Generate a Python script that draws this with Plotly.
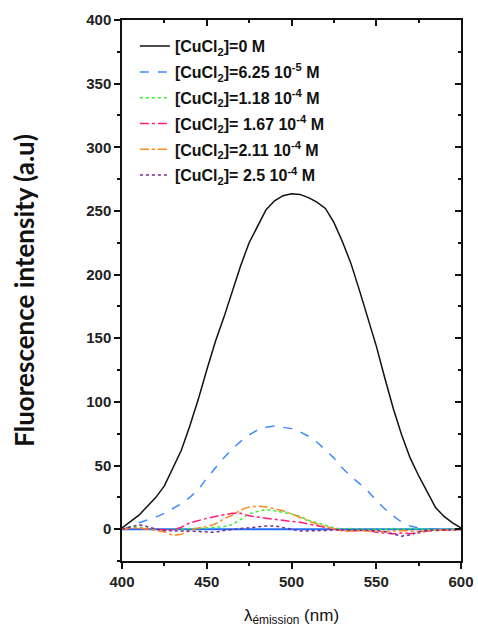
import plotly.graph_objects as go

# emission wavelength (nm), 5 nm steps
wavelength = list(range(400, 605, 5))

# fluorescence intensity, one list per [CuCl2]
i_0 = [1, 6, 11, 18, 25, 34, 48, 62, 81, 102, 125, 147, 166, 186, 207, 225, 238.5, 251, 258, 262, 263.5,
       263, 260.5, 257, 252, 241, 226, 209, 188, 166, 144, 119, 95, 74, 56, 42, 29, 17, 10, 5, 1]
i_625e6 = [0, 2, 5, 7, 9.5, 12.5, 16, 20, 25, 31, 40, 48, 56, 63, 69, 74, 78, 80, 81, 80, 79,
           76.5, 73, 68.5, 62.5, 56, 48, 41.5, 36, 30, 22.5, 16, 10.5, 5.5, 2.5, 1, 0.5, 0, 0, 0, 0]
i_118e4 = [0, 2, 1.5, 0.5, 0, -0.5, -0.5, 0, 0.5, 0.5, 1, 1.5, 2, 3.5, 8, 12, 14, 15.5, 14.5, 13.5, 12,
           10, 7, 5, 3, 1, 0, 0.5, 0, 0, -0.5, 0, 0.5, 0, 0.5, 0, 0, -0.5, 0, 0, 0]
i_167e4 = [0, 1, 0.5, 0, 0, -0.5, -0.5, 1.5, 5, 7, 8.5, 10, 11, 12.5, 12.5, 10.5, 9.5, 8.5, 7.5, 6.5, 6,
           5.5, 4, 2.5, 1, 0, -1, -1.5, -1, -1, -2.5, -3, -3.5, -3, -3.5, -3, -1.5, -1, -1, -1, -0.5]
i_211e4 = [0, 1, 1, 0, -1, -2, -5, -4, -1, 1, 2, 4, 8, 11, 15, 17.5, 18, 17.5, 16, 14.5, 12,
           9, 6.5, 4, 2, 0, -1.5, -1.5, -1, -1.5, -2, -2, -1.5, -1, -1.5, -2, -1, -1, -1, -0.5, 0]
i_25e4 = [0, 2, 3.5, 2, 0, -1, -1.5, -1.5, -1.5, -2, -2.5, -2.5, -1, 0, 0.5, 1, 2, 2.5, 2.5, 1.5, 0,
          -1.5, -1.5, -1.5, -1, -0.5, -0.5, -0.5, -1, -1, -1, -2, -4, -5.5, -4.5, -2, -1, -1, -0.5, -0.5, 0]

labels = ["[CuCl<sub>2</sub>]=0 M",
          "[CuCl<sub>2</sub>]=6.25 10<sup>-5</sup> M",
          "[CuCl<sub>2</sub>]=1.18 10<sup>-4</sup> M",
          "[CuCl<sub>2</sub>]= 1.67 10<sup>-4</sup> M",
          "[CuCl<sub>2</sub>]=2.11 10<sup>-4</sup> M",
          "[CuCl<sub>2</sub>]= 2.5 10<sup>-4</sup> M"]
series = [i_0, i_625e6, i_118e4, i_167e4, i_211e4, i_25e4]
colors = ["#111111", "#3d8bff", "#33ee33", "#ff1f77", "#ff8a1f", "#7a2a8e"]
dashes = ["solid", "dash", "dot", "dashdot", "dashdot", "dot"]

fig = go.Figure()

# blue baseline at zero
fig.add_trace(go.Scatter(x=[wavelength[0], wavelength[-1]], y=[0, 0], mode="lines",
                         line=dict(color="#1e6fff", width=2), showlegend=False, hoverinfo="skip"))

for k, (name, ys) in enumerate(zip(labels, series)):
    fig.add_trace(go.Scatter(x=wavelength, y=ys, name=name, mode="lines",
                             legendgroup=str(k),
                             line=dict(color=colors[k], dash=dashes[k], width=1.5)))

tickfont = dict(family="Liberation Sans", size=15, color="#222", weight="bold")
frame = dict(showgrid=False, zeroline=False, showline=True, linecolor="#111", linewidth=1.5,
             ticklen=6, tickwidth=1.5, tickcolor="#111", automargin=False)

fig.update_layout(
    width=478, height=644,
    margin=dict(l=122, r=17, t=20, b=83),
    paper_bgcolor="white", plot_bgcolor="white",
    font=dict(family="Liberation Sans", color="#111"),
    legend=dict(x=0.038, y=0.983, xanchor="left", yanchor="top",
                bgcolor="rgba(0,0,0,0)", tracegroupgap=2,
                font=dict(size=16, weight="bold", color="#111")),
    xaxis=dict(range=[400, 600], dtick=50, tick0=400, ticks="outside",
               minor=dict(dtick=25, ticks="outside", ticklen=3, tickcolor="#111"),
               tickfont=tickfont, ticklabeloverflow="allow",
               title=dict(text="λ<sub>émission</sub> (nm)", standoff=20,
                          font=dict(size=17, color="#111")), **frame),
    yaxis=dict(range=[-25, 400], dtick=50, tick0=0, ticks="outside",
               minor=dict(dtick=25, ticks="outside", ticklen=3, tickcolor="#111"),
               tickfont=tickfont, ticklabeloverflow="allow",
               title=dict(text="Fluorescence intensity (a.u)", standoff=44,
                          font=dict(family="Lato", size=26, weight="bold", color="#111")), **frame),
    # top and right frame with inward ticks
    xaxis2=dict(overlaying="x", side="top", matches="x", range=[400, 600], dtick=50, tick0=400,
                ticks="inside", showticklabels=False,
                minor=dict(dtick=25, ticks="inside", ticklen=3, tickcolor="#111"), **frame),
    yaxis2=dict(overlaying="y", side="right", matches="y", range=[-25, 400], dtick=50, tick0=0,
                ticks="inside", showticklabels=False,
                minor=dict(dtick=25, ticks="inside", ticklen=3, tickcolor="#111"), **frame),
)

# invisible trace to make the secondary axes render
fig.add_trace(go.Scatter(x=[400], y=[0], xaxis="x2", yaxis="y2", mode="markers",
                         marker=dict(opacity=0), showlegend=False, hoverinfo="skip"))

# drop the default page margin so the 478x644 figure fills the window exactly
fig.write_html("out.html", config={"displayModeBar": False},
               post_script="document.body.style.margin = '0';")
